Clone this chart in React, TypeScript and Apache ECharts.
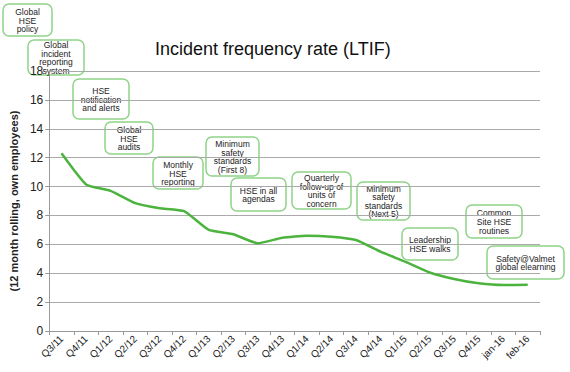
import React, { useEffect, useRef } from "react";
import * as echarts from "echarts";

const categories = ["Q3/11","Q4/11","Q1/12","Q2/12","Q3/12","Q4/12","Q1/13","Q2/13","Q3/13","Q4/13","Q1/14","Q2/14","Q3/14","Q4/14","Q1/15","Q2/15","Q3/15","Q4/15","jan-16","feb-16"];
const ltif = [12.3,10.15,9.7,8.85,8.5,8.3,7.0,6.7,6.07,6.45,6.6,6.53,6.3,5.5,4.8,4.05,3.6,3.3,3.18,3.2];
const title = "Incident frequency rate (LTIF)";
const yName = "(12 month rolling, own employees)";
const notes = [
  "Global\nHSE\npolicy",
  "Global\nincident\nreporting\nsystem",
  "HSE\nnotification\nand alerts",
  "Global\nHSE\naudits",
  "Monthly\nHSE\nreporting",
  "Minimum\nsafety\nstandards\n(First 8)",
  "HSE in all\nagendas",
  "Quarterly\nfollow-up of\nunits of\nconcern",
  "Minimum\nsafety\nstandards\n(Next 5)",
  "Leadership\nHSE walks",
  "Common\nSite HSE\nroutines",
  "Safety@Valmet\nglobal elearning",
];
// box layout [x0, y0, x1, y1]
const noteBoxes = [
  [3, 4, 52, 36],
  [28, 40, 84, 75],
  [73, 79, 129, 119],
  [105, 122, 153, 154],
  [153, 157, 203, 189],
  [206, 137, 259, 176],
  [231, 178, 286, 211],
  [292, 172, 351, 209],
  [357, 182, 410, 220],
  [402, 228, 458, 260],
  [466, 205, 522, 238],
  [487, 246, 564, 279],
];

const FONT = "Liberation Sans, Arial, sans-serif";

export default function App() {
  const ref = useRef<HTMLDivElement>(null);
  useEffect(() => {
    document.body.style.margin = "0";
    const chart = echarts.init(ref.current!, undefined, { renderer: "svg" });
    const graphics: any[] = [
      {
        type: "text",
        left: 155,
        top: 40,
        style: { text: title, font: `18px ${FONT}`, fill: "#111" },
      },
    ];
    notes.forEach((t, i) => {
      const [x0, y0, x1, y1] = noteBoxes[i];
      graphics.push({
        type: "group",
        z: 100,
        children: [
          {
            type: "rect",
            shape: { x: x0, y: y0, width: x1 - x0, height: y1 - y0, r: 6 },
            style: { fill: "#fff", stroke: "#8fd488", lineWidth: 1.5 },
          },
          {
            type: "text",
            x: (x0 + x1) / 2,
            y: (y0 + y1) / 2 + 0.5,
            style: {
              text: t,
              font: `8.5px ${FONT}`,
              fill: "#222",
              align: "center",
              verticalAlign: "middle",
              lineHeight: 8.6,
            },
          },
        ],
      });
    });
    chart.setOption({
      animation: false,
      backgroundColor: "#fff",
      textStyle: { fontFamily: FONT },
      grid: { left: 35, right: 30, top: 71, bottom: 41 },
      xAxis: {
        type: "category",
        data: categories,
        boundaryGap: true,
        axisLine: { lineStyle: { color: "#999", width: 1 } },
        axisTick: { show: true, length: 4, lineStyle: { color: "#999" } },
        axisLabel: { rotate: 45, fontSize: 10, color: "#222", margin: 6, interval: 0 },
      },
      yAxis: {
        type: "value",
        min: 0,
        max: 18,
        interval: 2,
        name: yName,
        nameLocation: "middle",
        nameRotate: 90,
        nameGap: 22,
        nameTextStyle: { fontSize: 11, fontWeight: "bold", color: "#222" },
        axisLine: { show: true, lineStyle: { color: "#999", width: 1 } },
        axisTick: { show: true, length: 4, lineStyle: { color: "#999" } },
        axisLabel: { fontSize: 12, color: "#222", margin: 6 },
        splitLine: { lineStyle: { color: "#aaa", width: 1 } },
      },
      series: [
        {
          type: "line",
          data: ltif,
          symbol: "none",
          smooth: 0.15,
          lineStyle: { color: "#4cb33e", width: 2.5 },
        },
      ],
      graphic: graphics,
    });
    return () => chart.dispose();
  }, []);
  return <div ref={ref} style={{ width: 570, height: 372 }} />;
}
